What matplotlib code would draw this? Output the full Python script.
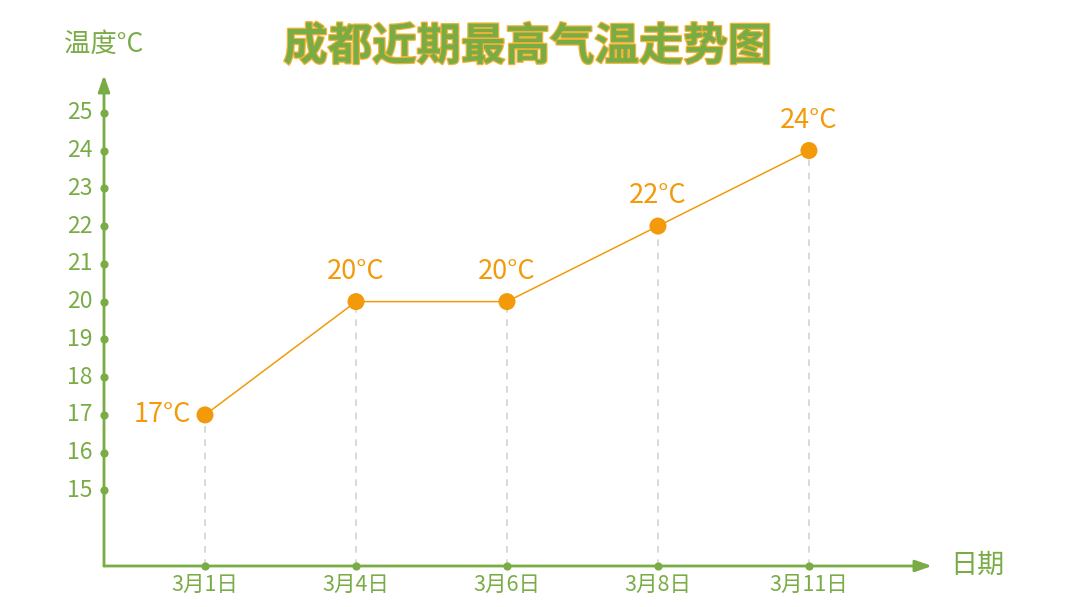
import matplotlib
matplotlib.use("Agg")
import matplotlib.pyplot as plt
import matplotlib.patheffects as pe

plt.rcParams['font.family'] = ['Noto Sans CJK SC', 'DejaVu Sans']

dates = ["3月1日", "3月4日", "3月6日", "3月8日", "3月11日"]
temps = [17, 20, 20, 22, 24]
yticks = [15, 16, 17, 18, 19, 20, 21, 22, 23, 24, 25]

GREEN = "#7aac46"
ORANGE = "#f39a0b"
W, H = 1080, 607

fig = plt.figure(figsize=(10.8, 6.07), dpi=100)
x0, x1, y0, y1 = 104, 932, 566, 75
ax = fig.add_axes([x0 / W, (H - y0) / H, (x1 - x0) / W, (y0 - y1) / H])
ax.set_xlim(-0.669, 4.815)
ax.set_ylim(13, 26)
ax.axis('off')

xs = list(range(len(dates)))
# axes with arrows
ax.annotate("", xy=(4.815, 13), xytext=(-0.669, 13),
            arrowprops=dict(arrowstyle="-|>,head_length=1.0,head_width=0.35", color=GREEN, lw=2,
                            shrinkA=0, shrinkB=0), annotation_clip=False)
ax.annotate("", xy=(-0.669, 26), xytext=(-0.669, 13),
            arrowprops=dict(arrowstyle="-|>,head_length=1.0,head_width=0.35", color=GREEN, lw=2,
                            shrinkA=0, shrinkB=0), annotation_clip=False)

# y ticks
ax.scatter([-0.669] * len(yticks), yticks, s=24, color=GREEN, zorder=5, clip_on=False)
for v in yticks:
    ax.text(-0.745, v, str(v), ha='right', va='center', fontsize=16.5, color=GREEN)

# x ticks
ax.scatter(xs, [13] * len(xs), s=24, color=GREEN, zorder=5, clip_on=False)
for x, d in zip(xs, dates):
    ax.text(x, 12.5, d, ha='center', va='center', fontsize=15.5, color=GREEN)

# dashed drop lines
for x, t in zip(xs, temps):
    ax.plot([x, x], [13, t], ls=(0, (4, 4)), color="#d3d3d3", lw=1.2, zorder=1)

ax.plot(xs, temps, color=ORANGE, lw=1.1, zorder=3)
ax.scatter(xs, temps, s=150, color=ORANGE, zorder=4, edgecolors='none')

for i, (x, t) in enumerate(zip(xs, temps)):
    if i == 0:
        ax.text(x - 0.09, t, f"{t}°C", ha='right', va='center', fontsize=19.5, color=ORANGE)
    else:
        ax.text(x, t + 0.8, f"{t}°C", ha='center', va='center', fontsize=19.5, color=ORANGE)

fig.text(104 / W, 1 - 44 / H, "温度°C", ha='center', va='center', fontsize=19, color=GREEN)
fig.text(977 / W, 1 - 565 / H, "日期", ha='center', va='center', fontsize=19.5, color=GREEN)

fig.text(528 / W, 1 - 47 / H, "成都近期最高气温走势图", ha='center', va='center',
         fontsize=32, fontweight='bold', color=GREEN,
         path_effects=[pe.withStroke(linewidth=1.8, foreground="#f5b335")])

fig.savefig("out.png", dpi=100, facecolor='white')
